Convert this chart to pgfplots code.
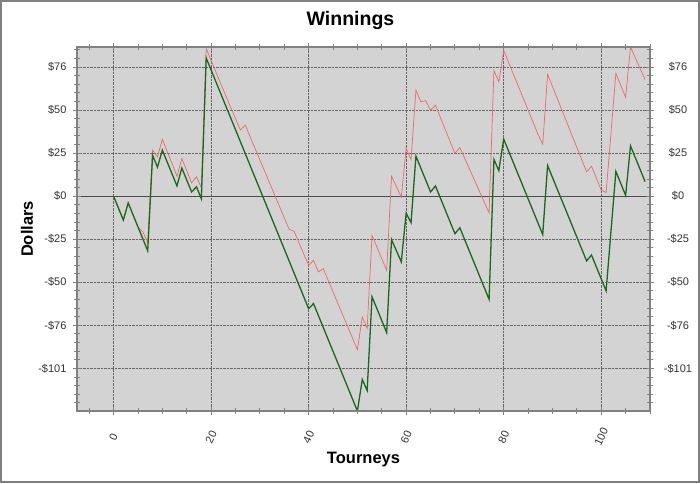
\documentclass[border=0pt]{standalone}
\usepackage{fontspec}
\setmainfont{Liberation Sans}
\usepackage{pgfplots}
\usepackage{pgfplotstable}
\pgfplotsset{compat=1.18}
\definecolor{bg}{RGB}{211,211,211}
\definecolor{gline}{RGB}{25,105,25}
\definecolor{rline}{RGB}{235,105,105}
\definecolor{axgray}{RGB}{128,128,128}

\pgfplotstableread{
x g r
0 0 0
1 -7 -7
2 -14 -14
3 -4 -4
4 -11 -11
5 -18 -18
6 -25 -21
7 -32 -27
8 24 27
9 17 23
10 27 33.3
11 20 26.2
12 13 19
13 6 11.7
14 16.5 22
15 9.5 15
16 2.5 7.8
17 5.5 11.4
18 -1.5 5
19 81 86.5
20 74 79.6
21 67 72.7
22 60 65.8
23 53 59
24 46 52.2
25 39 45.5
26 32 38.8
27 25 41.7
28 18 34.9
29 11 28.1
30 4 21.3
31 -3 14.5
32 -10 7.7
33 -17 0.9
34 -24 -5.9
35 -31 -12.7
36 -38 -19.4
37 -45 -20.5
38 -52 -27.2
39 -59 -33.9
40 -66 -40.5
41 -63 -37.6
42 -70 -44.4
43 -77 -42.5
44 -84 -49.3
45 -91 -56.1
46 -98 -62.9
47 -105 -69.7
48 -112 -76.5
49 -119 -83.3
50 -126 -90
51 -107.5 -70.9
52 -114 -77.5
53 -59 -23
54 -66 -29.8
55 -73 -36.7
56 -80 -43.5
57 -25.5 11.7
58 -32 5.5
59 -38.5 -0.6
60 -10 28
61 -15.5 21.5
62 23.5 62.2
63 16.5 55.4
64 9.5 56
65 2.5 50.5
66 6 53.4
67 -1 46.3
68 -8 39.2
69 -15 32.2
70 -22 25.1
71 -18.5 28.6
72 -25.5 22.2
73 -32.5 15.8
74 -39.5 9.4
75 -46.5 3
76 -53.5 -3.4
77 -60.5 -9.8
78 21.5 73.6
79 15 67.1
80 33.5 85.5
81 26.5 78.5
82 19.5 71.5
83 12.5 64.5
84 5.5 57.5
85 -1.5 50.5
86 -8.5 43.5
87 -15.5 36.5
88 -22.5 30.4
89 18 71.5
90 11 64.3
91 4 57.2
92 -3 50
93 -10 42.9
94 -17 35.7
95 -24 28.6
96 -31 21.4
97 -38 14.3
98 -34.5 17.6
99 -41.5 10.6
100 -48.5 3.5
101 -55.5 2.2
102 -20.5 37
103 14.5 72
104 7.5 65
105 0.5 58
106 29.5 87.5
107 22.5 81.1
108 15.5 74.7
109 8.5 68.3
}\winnings

\pgfplotsset{
  common/.style={
    at={(77pt,72pt)}, anchor=south west,
    scale only axis, width=573pt, height=364pt,
    xmin=-7.5, xmax=110, ymin=-126, ymax=87.5,
    ytick={-101,-75.75,-50.5,-25.25,0,25.25,50.5,75.75},
    yticklabels={-\$101,-\$76,-\$50,-\$25,\$0,\$25,\$50,\$76},
    minor ytick={-121.2,-116.15,-111.1,-106.05,-101,-95.95,-90.9,-85.85,-80.8,-75.75,-70.7,-65.65,-60.6,-55.55,-50.5,-45.45,-40.4,-35.35,-30.3,-25.25,-20.2,-15.15,-10.1,-5.05,0,5.05,10.1,15.15,20.2,25.25,30.3,35.35,40.4,45.45,50.5,55.55,60.6,65.65,70.7,75.75,80.8,85.85},
    tick align=center,
    major tick length=8pt, minor tick length=6pt,
    every tick/.style={axgray, line width=0.9pt},
    axis line style={axgray, line width=1.6pt},
    ticklabel style={font=\fontsize{11}{13}\selectfont, text=black!80},
    /pgf/number format/assume math mode=true,
  }
}

\begin{document}
\begin{tikzpicture}[x=1pt,y=1pt]
\useasboundingbox (0,0) rectangle (700,483);
\draw[fill=white, draw=axgray, line width=1.6pt] (0.8,0.8) rectangle (699.2,482.2);
\begin{axis}[common, name=main,
  xtick={0,20,40,60,80,100},
  minor xtick={-5,0,5,...,110},
  axis background/.style={fill=bg},
  grid=major,
  major grid style={densely dotted, black!60, line width=0.6pt},
  yticklabel shift=3pt,
  xticklabel style={rotate=65, anchor=center},
  xticklabel shift=22pt,
]
\addplot[black!70, line width=0.8pt, forget plot] coordinates {(-7.5,0) (110,0)};
\addplot[rline, line width=0.7pt] table[x=x, y=r] {\winnings};
\addplot[gline, line width=1.3pt] table[x=x, y=g] {\winnings};
\end{axis}
\begin{axis}[common,
  xtick=\empty, minor xtick=\empty,
  yticklabel pos=right,
  yticklabel style={anchor=center},
  yticklabel shift=24pt,
]
\end{axis}
\node[font=\bfseries\fontsize{19.5}{21}\selectfont, anchor=center] at ([xshift=-13pt,yshift=26pt]main.north) {Winnings};
\node[font=\bfseries\fontsize{16.5}{18}\selectfont, anchor=center] at ([yshift=-49pt]main.south) {Tourneys};
\node[font=\bfseries\fontsize{16.5}{18}\selectfont, anchor=center, rotate=90] at ([xshift=-50pt]main.west) {Dollars};
\end{tikzpicture}
\end{document}
